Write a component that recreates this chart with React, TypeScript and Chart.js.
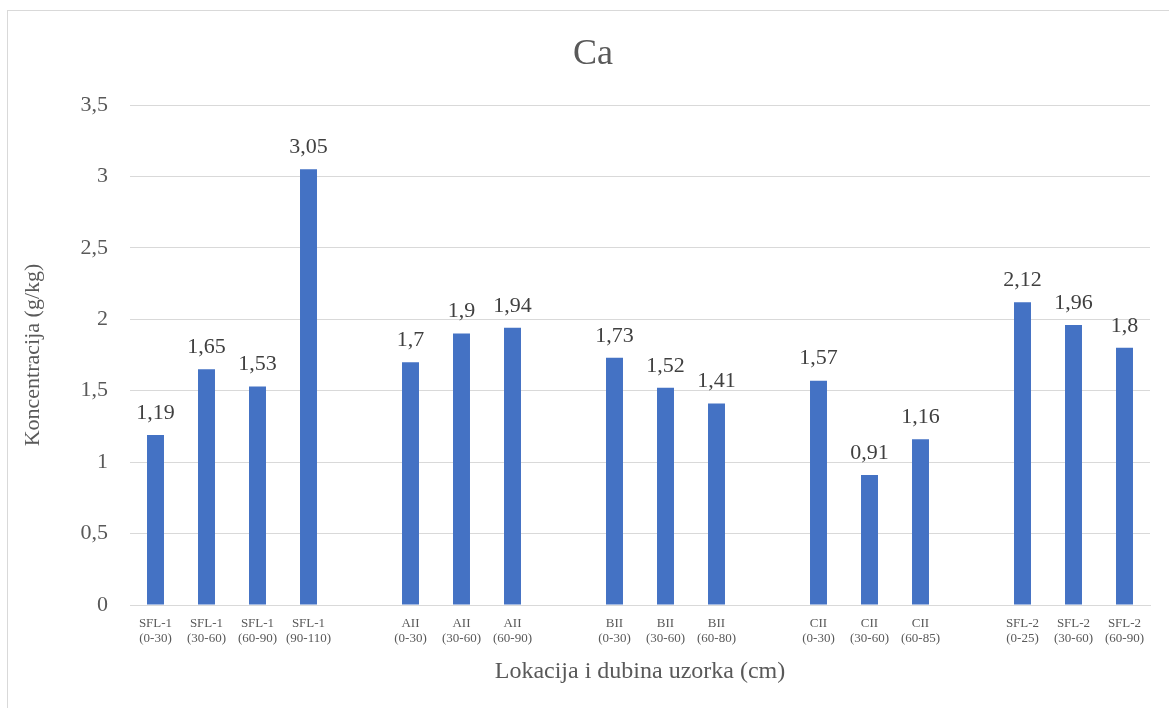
import React, { useEffect, useRef } from "react";
import { Chart, registerables } from "chart.js";

Chart.register(...registerables);

const locations: string[] = [
  "SFL-1", "SFL-1", "SFL-1", "SFL-1", "",
  "AII", "AII", "AII", "",
  "BII", "BII", "BII", "",
  "CII", "CII", "CII", "",
  "SFL-2", "SFL-2", "SFL-2",
];
const depths: string[] = [
  "(0-30)", "(30-60)", "(60-90)", "(90-110)", "",
  "(0-30)", "(30-60)", "(60-90)", "",
  "(0-30)", "(30-60)", "(60-80)", "",
  "(0-30)", "(30-60)", "(60-85)", "",
  "(0-25)", "(30-60)", "(60-90)",
];
const caValues: (number | null)[] = [
  1.19, 1.65, 1.53, 3.05, null,
  1.7, 1.9, 1.94, null,
  1.73, 1.52, 1.41, null,
  1.57, 0.91, 1.16, null,
  2.12, 1.96, 1.8,
];
const chartTitle = "Ca";
const yTitle = "Koncentracija (g/kg)";
const xTitle = "Lokacija i dubina uzorka (cm)";

const SERIF = "'Liberation Serif', 'Times New Roman', serif";
const fmt = (v: number) => String(v).replace(".", ",");

export default function App() {
  const ref = useRef<HTMLCanvasElement | null>(null);

  useEffect(() => {
    if (!ref.current) return;
    const labels = locations.map((l, i) => (l ? [l, depths[i]] : ""));

    const framePlugin = {
      id: "frame",
      beforeDraw(chart: any) {
        const ctx = chart.ctx;
        ctx.save();
        ctx.fillStyle = "#ffffff";
        ctx.fillRect(0, 0, chart.width, chart.height);
        ctx.strokeStyle = "#d9d9d9";
        ctx.lineWidth = 1;
        ctx.strokeRect(7.5, 10.5, 3000, 3000);
        ctx.restore();
      },
      afterDraw(chart: any) {
        const ctx = chart.ctx;
        ctx.save();
        ctx.fillStyle = "#595959";
        ctx.font = `36px ${SERIF}`;
        ctx.textAlign = "center";
        ctx.textBaseline = "middle";
        ctx.fillText(chartTitle, 593, 55);
        ctx.restore();
      },
    };

    const valueLabels = {
      id: "valueLabels",
      afterDatasetsDraw(chart: any) {
        const ctx = chart.ctx;
        const meta = chart.getDatasetMeta(0);
        ctx.save();
        ctx.fillStyle = "#404040";
        ctx.font = `22px ${SERIF}`;
        ctx.textAlign = "center";
        ctx.textBaseline = "middle";
        meta.data.forEach((el: any, i: number) => {
          const v = caValues[i];
          if (v === null || v === undefined) return;
          ctx.fillText(fmt(v), el.x, el.y - 22);
        });
        ctx.restore();
      },
    };

    const chart = new Chart(ref.current, {
      type: "bar",
      data: {
        labels,
        datasets: [
          {
            label: chartTitle,
            data: caValues,
            backgroundColor: "#4472C4",
            borderWidth: 0,
            barPercentage: 1,
            categoryPercentage: 0.333,
          },
        ],
      },
      options: {
        responsive: false,
        animation: false,
        layout: { padding: { left: 10, right: 19, top: 105, bottom: 10 } },
        plugins: {
          legend: { display: false },
          title: { display: false },
          tooltip: { enabled: false },
        },
        scales: {
          x: {
            grid: { display: false, drawTicks: false },
            border: { display: true, color: "#d9d9d9", width: 1 },
            ticks: {
              color: "#595959",
              font: { family: SERIF, size: 13, lineHeight: 1.15 },
              padding: 11,
              maxRotation: 0,
              autoSkip: false,
            },
            title: {
              display: true,
              text: xTitle,
              color: "#595959",
              font: { family: SERIF, size: 24, lineHeight: 1.2 },
              padding: { top: 0, bottom: 12 },
            },
            afterFit(scale: any) {
              scale.height = 93;
            },
          },
          y: {
            min: 0,
            max: 3.5,
            grid: { color: "#d9d9d9", lineWidth: 1, drawTicks: false },
            border: { display: false },
            ticks: {
              stepSize: 0.5,
              color: "#595959",
              font: { family: SERIF, size: 22 },
              padding: 22,
              callback: (v: any) => fmt(Number(v)),
            },
            title: {
              display: true,
              text: yTitle,
              color: "#595959",
              font: { family: SERIF, size: 22, lineHeight: 1.2 },
              padding: { top: 10, bottom: 0 },
            },
            afterFit(scale: any) {
              scale.width = 120;
            },
          },
        },
      },
      plugins: [framePlugin, valueLabels],
    });

    return () => chart.destroy();
  }, []);

  return (
    <div style={{ position: "fixed", left: 0, top: 0, width: 1169, height: 708, background: "#fff" }}>
      <canvas ref={ref} width={1169} height={708} style={{ display: "block", width: 1169, height: 708 }} />
    </div>
  );
}
